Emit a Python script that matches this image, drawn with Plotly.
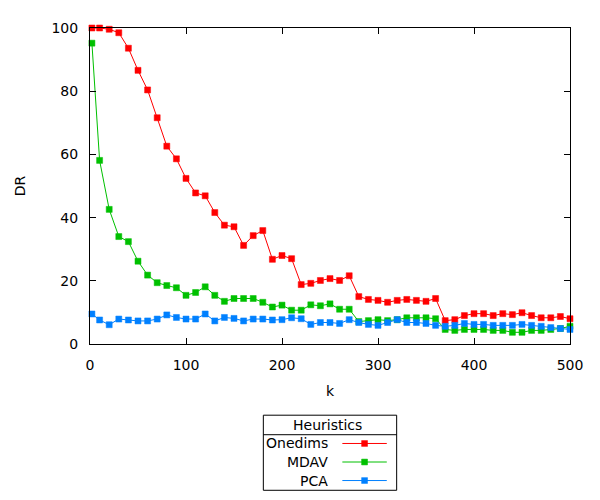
import plotly.graph_objects as go

k = [2] + list(range(10, 501, 10))

onedims = [100, 100, 99.6, 98.5, 93.6, 86.6, 80.4, 71.6, 62.6, 58.6, 52.4,
           47.8, 46.9, 41.6, 37.6, 37.1, 31.2, 34.3, 35.9, 26.8, 28.0,
           27.0, 18.8, 19.2, 20.1, 20.7, 20.1, 21.6, 15.0, 14.1, 13.8,
           13.2, 13.8, 14.1, 13.8, 13.5, 14.4, 7.4, 7.7, 9.0, 9.6,
           9.6, 9.0, 9.6, 9.3, 9.9, 9.0, 8.3, 8.3, 8.7, 8.0]
mdav = [95.2, 58.1, 42.6, 34.0, 32.4, 26.2, 21.8, 19.4, 18.5, 17.8, 15.4,
        16.3, 18.1, 15.4, 13.5, 14.4, 14.4, 14.4, 13.2, 11.7, 12.3,
        10.7, 10.7, 12.4, 12.1, 12.7, 11.0, 11.0, 7.1, 7.4, 7.7,
        7.4, 7.7, 8.3, 8.3, 8.3, 8.0, 4.6, 4.3, 4.6, 4.6,
        4.6, 4.3, 4.3, 3.7, 3.7, 4.3, 4.3, 4.6, 4.9, 5.6]
pca = [9.5, 7.6, 6.1, 7.9, 7.6, 7.3, 7.3, 7.9, 9.2, 8.4, 7.9,
       7.9, 9.5, 7.3, 8.4, 8.1, 7.3, 7.9, 7.9, 7.6, 7.7,
       8.3, 8.0, 6.2, 6.8, 6.8, 6.5, 7.7, 6.8, 6.2, 5.9,
       6.8, 7.7, 6.8, 6.8, 6.5, 5.9, 5.6, 5.9, 6.5, 6.2,
       6.2, 5.9, 5.9, 5.9, 6.2, 5.9, 5.6, 5.2, 4.9, 4.6]

series_names = ["Onedims", "MDAV", "PCA"]
series_values = [onedims, mdav, pca]
colors = ["#ff0000", "#00c000", "#0080ff"]

FONT = "DejaVu Sans"
OFF = 8  # page body margin
W, H = 600 - OFF, 500 - OFF
L, T = 84 - OFF, 20 - OFF
PW, PH = 486, 324
R, B = W - L - PW, H - T - PH


def px(x):
    return (x - OFF - L) / PW


def py(y):
    return (T + PH - (y - OFF)) / PH


fig = go.Figure()
for name, vals, c in zip(series_names, series_values, colors):
    fig.add_trace(go.Scatter(
        x=k, y=vals, name=name, mode="lines+markers",
        line=dict(color=c, width=1),
        marker=dict(symbol="square", size=6, color=c,
                    line=dict(color=c, width=0.5)),
        cliponaxis=False, showlegend=False,
    ))

axis_common = dict(
    showline=True, linecolor="black", linewidth=1, mirror="ticks",
    ticks="inside", ticklen=6, tickcolor="black", tickwidth=1,
    showgrid=False, zeroline=False,
    tickfont=dict(family=FONT, size=14, color="black"),
)
fig.update_xaxes(range=[0, 500], dtick=100, tick0=0, ticklabelstandoff=8,
                 title=dict(text="k", font=dict(family=FONT, size=14, color="black"),
                            standoff=14),
                 **axis_common)
fig.update_yaxes(range=[0, 100], dtick=20, tick0=0, ticklabelstandoff=8,
                 title=dict(text="DR", font=dict(family=FONT, size=14, color="black"),
                            standoff=22),
                 **axis_common)

shapes = []
annotations = []
# legend box
shapes.append(dict(type="rect", xref="paper", yref="paper",
                   x0=px(259.5), x1=px(394.5), y0=py(494), y1=py(417),
                   line=dict(color="black", width=1), fillcolor="rgba(0,0,0,0)"))
shapes.append(dict(type="line", xref="paper", yref="paper",
                   x0=px(259.5), x1=px(394.5), y0=py(437), y1=py(437),
                   line=dict(color="black", width=1)))
annotations.append(dict(text="Heuristics", xref="paper", yref="paper",
                        x=px(324.5), y=py(427), xanchor="center", yanchor="middle",
                        showarrow=False, font=dict(family=FONT, size=14, color="black")))
rows_y = [446, 465, 484]
for name, c, yy in zip(series_names, colors, rows_y):
    annotations.append(dict(text=name, xref="paper", yref="paper",
                            x=px(327), y=py(yy), xanchor="right", yanchor="middle",
                            showarrow=False, font=dict(family=FONT, size=14, color="black")))
    shapes.append(dict(type="line", xref="paper", yref="paper",
                       x0=px(339.5), x1=px(384.5), y0=py(yy), y1=py(yy),
                       line=dict(color=c, width=1)))
    shapes.append(dict(type="rect", xref="paper", yref="paper",
                       x0=px(359), x1=px(365), y0=py(yy + 3), y1=py(yy - 3),
                       line=dict(color=c, width=0.5), fillcolor=c))

fig.update_layout(
    width=W, height=H,
    margin=dict(l=L, r=R, t=T, b=B),
    paper_bgcolor="white", plot_bgcolor="white",
    showlegend=False,
    shapes=shapes, annotations=annotations,
    font=dict(family=FONT, size=14, color="black"),
)

fig.write_html("out.html")
